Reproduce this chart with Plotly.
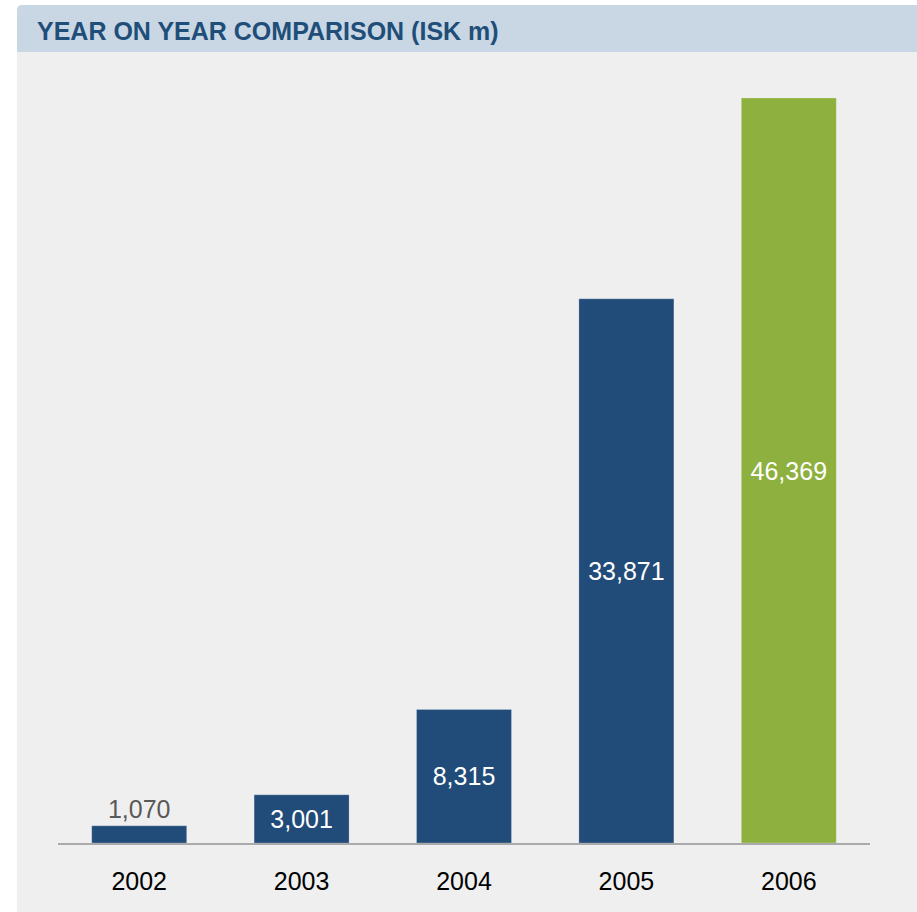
import plotly.graph_objects as go

years = ["2002", "2003", "2004", "2005", "2006"]
values = [1070, 3001, 8315, 33871, 46369]
bar_colors = ["#214b78", "#214b78", "#214b78", "#214b78", "#8db03e"]
text_positions = ["outside", "inside", "inside", "inside", "inside"]
title_text = "YEAR ON YEAR COMPARISON (ISK m)"

W, H = 917, 912
L, R, T, B = 58, 870, 98, 843  # plot area in pixels
pw, ph = R - L, B - T
FONT = "Liberation Sans, Arial, sans-serif"


def px(x):
    return (x - L) / pw


def py(y):
    return (B - y) / ph


fig = go.Figure()
fig.add_trace(go.Bar(
    x=years,
    y=values,
    marker=dict(color=bar_colors, line=dict(color="rgba(255,255,255,0.25)", width=1)),
    texttemplate="%{y:,}",
    textposition=text_positions,
    insidetextanchor="middle",
    insidetextfont=dict(color="#ffffff", size=25, family=FONT),
    outsidetextfont=dict(color="#595959", size=25, family=FONT),
    textangle=0,
    constraintext="none",
    cliponaxis=False,
    hoverinfo="skip",
))

# panel body + header band
rx, ry = 5 / pw, 5 / ph
x0, x1 = px(17), px(925)
yb0, yb1 = py(920), py(52)
yh0, yh1 = py(52), py(5)
shapes = [
    dict(type="rect", xref="paper", yref="paper", x0=x0, x1=x1, y0=yb0, y1=yb1,
         fillcolor="#efefef", line=dict(width=0), layer="below"),
    dict(type="path", xref="paper", yref="paper",
         path=(f"M {x0},{yh0} L {x0},{yh1 - ry} Q {x0},{yh1} {x0 + rx},{yh1} "
               f"L {x1},{yh1} L {x1},{yh0} Z"),
         fillcolor="#c9d7e4", line=dict(width=0), layer="below"),
]

fig.update_layout(
    width=W, height=H,
    margin=dict(l=L, r=W - R, t=T, b=H - B, pad=0),
    paper_bgcolor="#ffffff",
    plot_bgcolor="rgba(0,0,0,0)",
    bargap=0.415,
    showlegend=False,
    shapes=shapes,
    font=dict(family=FONT),
    title=dict(
        text=f"<b>{title_text}</b>",
        x=37 / W, xanchor="left", xref="container",
        y=1 - 31 / H, yanchor="middle", yref="container",
        font=dict(size=25, color="#1f4e79", family=FONT),
    ),
    xaxis=dict(
        type="category",
        range=[-0.5, 4.5],
        showline=True, linecolor="#aaaaaa", linewidth=2,
        showgrid=False, zeroline=False,
        ticks="outside", ticklen=15, tickcolor="rgba(0,0,0,0)",
        tickfont=dict(size=25, color="#000000", family=FONT),
        fixedrange=True,
    ),
    yaxis=dict(
        range=[0, 46369],
        visible=False,
        showgrid=False, zeroline=False,
        fixedrange=True,
    ),
)

fig.write_html(
    "out.html",
    config={"displayModeBar": False, "staticPlot": True},
    post_script="document.body.style.margin='0';document.body.style.overflow='hidden';",
)
